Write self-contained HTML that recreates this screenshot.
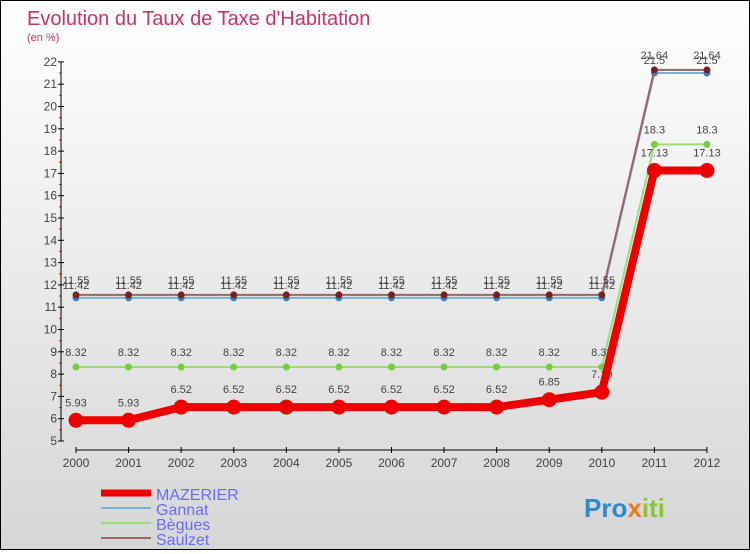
<!DOCTYPE html>
<html><head><meta charset="utf-8"><style>
html,body{margin:0;padding:0}
body{width:750px;height:550px;overflow:hidden;font-family:"Liberation Sans",sans-serif}
#wrap{position:relative;width:748px;height:548px;border:1px solid #000;background:linear-gradient(#ffffff,#d6d6d6)}
</style></head><body>
<div id="wrap">
<svg id="svg" width="748" height="548" xmlns="http://www.w3.org/2000/svg">
<text x="26" y="24" font-size="20" fill="#c8336a">Evolution du Taux de Taxe d'Habitation</text>
<text x="26" y="40" font-size="11" fill="#c8336a">(en %)</text>
<g id="axes"></g><g id="series"></g>
<g>
<line x1="100" y1="492" x2="150" y2="492" stroke="#ee0000" stroke-width="7"/>
<text x="155" y="499" font-size="16" fill="#6a6aff">MAZERIER</text>
<line x1="100" y1="507" x2="150" y2="507" stroke="#7ab0d8" stroke-width="2"/>
<text x="155" y="514" font-size="16" fill="#6a6aff">Gannat</text>
<line x1="100" y1="522" x2="150" y2="522" stroke="#99dd77" stroke-width="2"/>
<text x="155" y="529" font-size="16" fill="#6a6aff">Bègues</text>
<line x1="100" y1="537" x2="150" y2="537" stroke="#996666" stroke-width="2"/>
<text x="155" y="544" font-size="16" fill="#6a6aff">Saulzet</text>
</g>
<text x="583" y="516" font-size="26" font-weight="bold"><tspan fill="#2a8ad4">Pro</tspan><tspan fill="#f07a10">x</tspan><tspan fill="#8ac43a">iti</tspan></text>
</svg></div>
<script>
const years=[2000,2001,2002,2003,2004,2005,2006,2007,2008,2009,2010,2011,2012];
const yTicks=[5,6,7,8,9,10,11,12,13,14,15,16,17,18,19,20,21,22];
const mazerier=[5.93,5.93,6.52,6.52,6.52,6.52,6.52,6.52,6.52,6.85,7.19,17.13,17.13];
const gannat=[11.42,11.42,11.42,11.42,11.42,11.42,11.42,11.42,11.42,11.42,11.42,21.5,21.5];
const begues=[8.32,8.32,8.32,8.32,8.32,8.32,8.32,8.32,8.32,8.32,8.32,18.3,18.3];
const saulzet=[11.55,11.55,11.55,11.55,11.55,11.55,11.55,11.55,11.55,11.55,11.55,21.64,21.64];
const NS="http://www.w3.org/2000/svg";
function X(i){return 75+i*52.58;}
function Y(v){return 440-(v-5)*22.3;}
function mk(tag,attrs,parent,text){const e=document.createElementNS(NS,tag);for(const k in attrs)e.setAttribute(k,attrs[k]);if(text!==undefined)e.textContent=text;parent.appendChild(e);return e;}
const ax=document.getElementById('axes');
let a=mk('line',{x1:60,y1:Y(22),x2:60,y2:Y(5),stroke:'#000'},ax);


a=mk('line',{x1:75,y1:449,x2:706,y2:449,stroke:'#000'},ax);


yTicks.forEach(v=>{
 mk('line',{x1:57,y1:Y(v),x2:63,y2:Y(v),stroke:'#000'},ax);
 if(v<22)mk('line',{x1:58,y1:Y(v+0.5),x2:61,y2:Y(v+0.5),stroke:'#f00'},ax);
 const t=mk('text',{x:56,y:Y(v)+4,'font-size':12,fill:'#444','text-anchor':'end'},ax,v);
 
 
});
years.forEach((yr,i)=>{
 mk('line',{x1:X(i),y1:446,x2:X(i),y2:452,stroke:'#000'},ax);
 const t=mk('text',{x:X(i),y:466,'font-size':12,fill:'#444','text-anchor':'middle'},ax,yr);
 
 
});
const sg=document.getElementById('series');
function draw(vals,color,w,r,name,dot,lblDy){
 const g=mk('g',{},sg);
 
 
 mk('polyline',{points:vals.map((v,i)=>X(i)+','+Y(v)).join(' '),fill:'none',stroke:color,'stroke-width':w,'stroke-linejoin':'round'},g);
 vals.forEach((v,i)=>{
  const c=mk('circle',{cx:X(i),cy:Y(v),r:r,fill:dot},g);
  
  
  const t=mk('text',{x:X(i),y:Y(v)+lblDy,'font-size':11,fill:'#444','text-anchor':'middle'},g,v);
  
  
 });
}
draw(begues,'#99dd77',2,3.5,'begues','#77cc44',-11);
draw(gannat,'#7ab0d8',2,3.5,'gannat','#3a7ec0',-9);
draw(saulzet,'#996666',2,3.5,'saulzet','#772222',-11);
draw(mazerier,'#ee0000',8,7.5,'mazerier','#ee0000',-14);
</script>
</body></html>
